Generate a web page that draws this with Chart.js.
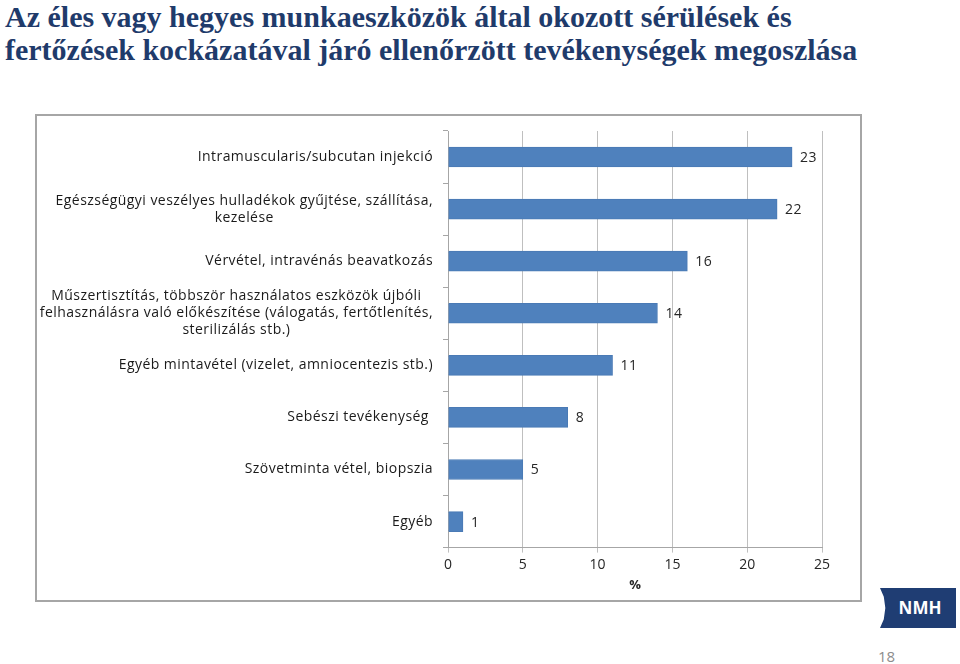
<!DOCTYPE html>
<html lang="hu">
<head>
<meta charset="UTF-8">
<title>Ellenőrzött tevékenységek megoszlása</title>
<script src="https://cdn.jsdelivr.net/npm/chart.js"></script>
<style>
    body {
        margin: 0;
        width: 960px;
        height: 664px;
        background: #fff;
        position: relative;
        overflow: hidden;
        font-family: "Open Sans", sans-serif;
    }
    h1 {
        position: absolute;
        left: 5px;
        top: 0;
        margin: 0;
        font-family: "Liberation Serif", serif;
        font-weight: bold;
        font-size: 30px;
        line-height: 33px;
        color: #1f3b6b;
        white-space: nowrap;
    }
    .chart-box {
        position: absolute;
        left: 35px;
        top: 114px;
        width: 823px;
        height: 484px;
        border: 2px solid #a6a6a6;
    }
    .logo {
        position: absolute;
        left: 880px;
        top: 588px;
        width: 76px;
        height: 40px;
        background: #1f3d73;
        clip-path: polygon(0 0, 100% 0, 100% 100%, 0 100%, 5% 78%, 7% 50%, 5% 22%);
        color: #fff;
        font-weight: bold;
        font-size: 17px;
        line-height: 40px;
        text-align: center;
        padding-left: 4px;
        box-sizing: border-box;
    }
    .page-num {
        position: absolute;
        left: 878px;
        top: 646px;
        font-size: 15px;
        color: #8c8c8c;
    }
</style>
</head>
<body>
<h1>Az éles vagy hegyes munkaeszközök által okozott sérülések és<br>fertőzések kockázatával járó ellenőrzött tevékenységek megoszlása</h1>

<div class="chart-box">
    <canvas id="tevekenysegChart"></canvas>
</div>

<div class="logo">NMH</div>
<div class="page-num">18</div>

<script>
    // kategóriák (soronként tördelve, ahogy a képen)
    const kategoriak = [
        ['Intramuscularis/subcutan injekció'],
        ['Egészségügyi veszélyes hulladékok gyűjtése, szállítása,', 'kezelése'],
        ['Vérvétel, intravénás beavatkozás'],
        ['Műszertisztítás, többször használatos eszközök újbóli', 'felhasználásra való előkészítése (válogatás, fertőtlenítés,', 'sterilizálás stb.)'],
        ['Egyéb mintavétel (vizelet, amniocentezis stb.)'],
        ['Sebészi tevékenység '],
        ['Szövetminta vétel, biopszia'],
        ['Egyéb']
    ];
    const ertekek = [23, 22, 16, 14, 11, 8, 5, 1];
    const xTickek = [0, 5, 10, 15, 20, 25];

    const betu = '14px "Open Sans", sans-serif';

    // bal oldali feliratok: egy soros jobbra zárt, több soros középre a legszélesebb sorhoz
    const kategoriaFeliratok = {
        id: 'kategoriaFeliratok',
        afterDraw(chart) {
            const ctx = chart.ctx;
            const y = chart.scales.y;
            ctx.save();
            ctx.font = betu;
            ctx.letterSpacing = '0.45px';
            ctx.fillStyle = '#1a1a1a';
            ctx.textAlign = 'center';
            ctx.textBaseline = 'middle';
            const jobb = y.right - 15;
            const sorMag = 17;
            kategoriak.forEach((sorok, i) => {
                const kozep = y.getPixelForValue(i);
                const szeles = Math.max(...sorok.map(s => ctx.measureText(s).width));
                const cx = jobb - szeles / 2;
                const kezd = kozep - (sorok.length - 1) * sorMag / 2;
                sorok.forEach((s, j) => ctx.fillText(s, cx, kezd + j * sorMag));
            });
            ctx.restore();
        }
    };

    // értékcímkék a sávok végén
    const ertekCimkek = {
        id: 'ertekCimkek',
        afterDatasetsDraw(chart) {
            const ctx = chart.ctx;
            const meta = chart.getDatasetMeta(0);
            ctx.save();
            ctx.font = betu;
            ctx.letterSpacing = '0.5px';
            ctx.fillStyle = '#262626';
            ctx.textAlign = 'left';
            ctx.textBaseline = 'middle';
            meta.data.forEach((bar, i) => {
                ctx.fillText(String(ertekek[i]), bar.x + 8, bar.y + 1);
            });
            ctx.restore();
        }
    };

    const ctx = document.getElementById('tevekenysegChart').getContext('2d');
    new Chart(ctx, {
        type: 'bar',
        data: {
            labels: kategoriak.map(k => k.join(' ')),
            datasets: [{
                data: ertekek,
                backgroundColor: '#4f81bd',
                borderColor: '#4a7ab5',
                borderWidth: 1,
                barThickness: 20
            }]
        },
        options: {
            indexAxis: 'y',
            responsive: true,
            maintainAspectRatio: false,
            animation: false,
            layout: {
                padding: { top: 15, right: 38, bottom: 7, left: 0 }
            },
            plugins: {
                legend: { display: false },
                tooltip: { enabled: false }
            },
            scales: {
                x: {
                    min: xTickek[0],
                    max: xTickek[xTickek.length - 1],
                    ticks: {
                        stepSize: xTickek[1] - xTickek[0],
                        color: '#262626',
                        font: { family: '"Open Sans", sans-serif', size: 14 },
                        padding: 4
                    },
                    grid: {
                        color: '#bfbfbf',
                        tickLength: 5
                    },
                    border: { color: '#a6a6a6' },
                    title: {
                        display: true,
                        text: '%',
                        color: '#262626',
                        font: { family: '"Open Sans", sans-serif', size: 13, weight: 'bold' },
                        padding: { top: 0, bottom: 0 }
                    }
                },
                y: {
                    ticks: { display: false },
                    grid: {
                        offset: true,
                        drawOnChartArea: false,
                        drawTicks: true,
                        tickLength: 5,
                        color: '#a6a6a6'
                    },
                    border: { color: '#a6a6a6' },
                    afterFit(scale) {
                        scale.width = 411;
                    }
                }
            }
        },
        plugins: [kategoriaFeliratok, ertekCimkek]
    });
</script>
</body>
</html>
